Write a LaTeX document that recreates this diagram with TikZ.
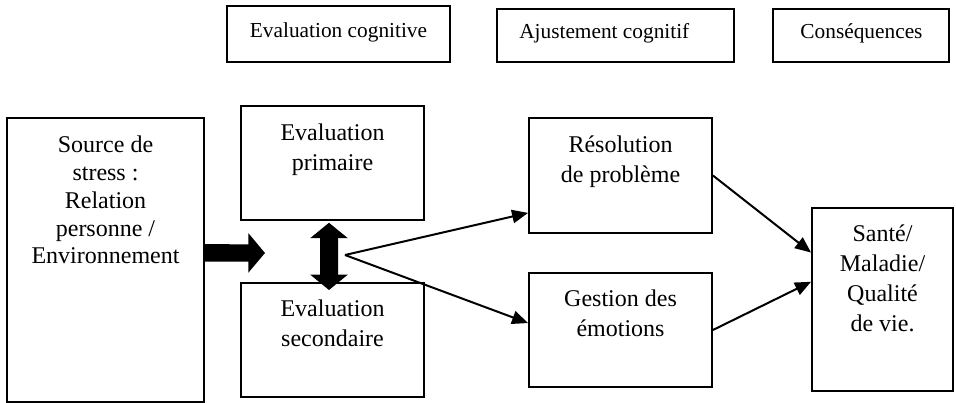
\documentclass[tikz,border=0pt]{standalone}
\usepackage{fontspec}
\setmainfont{Liberation Serif}
\usetikzlibrary{arrows.meta,calc}

\begin{document}
\begin{tikzpicture}[x=0.75pt,y=0.75pt,yscale=-1,xscale=1,
    box/.style={draw, line width=1.4pt, inner sep=0pt},
    toptext/.style={font=\fontsize{16}{19}\selectfont, inner sep=0pt, anchor=base},
    boxtext/.style={font=\fontsize{18}{22.5}\selectfont, align=center, inner sep=0pt, anchor=north},
    link/.style={line width=1.5pt, -{Triangle[length=12pt,width=10pt]}},
    fat/.style={line width=13pt, -{Triangle[length=12.5pt,width=29pt]}},
    fatboth/.style={line width=13.5pt, {Triangle[length=11.5pt,width=27.5pt]}-{Triangle[length=11.5pt,width=27.5pt]}}]
    \useasboundingbox (0,0) rectangle (956,403);

    %Shape: Rectangle [top row]
    \node [box, minimum width=167.25pt, minimum height=42pt] (cogbox) at (338.5,34) {};
    \node [box, minimum width=177.75pt, minimum height=39.75pt] (ajubox) at (615.5,35.5) {};
    \node [box, minimum width=132pt, minimum height=39.75pt] (conbox) at (861,35.5) {};
    % Text Node
    \node [toptext] (cogtxt) at (338.5,37.5) {Evaluation cognitive};
    \node [toptext, anchor=base west] (ajutxt) at (519,39) {Ajustement cognitif};
    \node [toptext] (contxt) at (861.5,39) {Conséquences};

    %Shape: Rectangle [main boxes]
    \node [box, minimum width=147.75pt, minimum height=213pt] (src) at (105.5,260) {};
    \node [box, minimum width=137.25pt, minimum height=85.5pt] (prim) at (332.5,163) {};
    \node [box, minimum width=137.25pt, minimum height=85.5pt] (sec) at (332.5,340) {};
    \node [box, minimum width=137.25pt, minimum height=86.25pt] (reso) at (620.5,175.5) {};
    \node [box, minimum width=137.25pt, minimum height=85.5pt] (gest) at (620.5,330) {};
    \node [box, minimum width=105.75pt, minimum height=137.25pt] (sante) at (882.5,299.5) {};
    % Text Node
    \node [boxtext, font=\fontsize{18}{20.8}\selectfont] (srctxt) at (105.5,136) {Source de\\stress :\\Relation\\personne /\\Environnement};
    \node [boxtext] (primtxt) at (332.5,124) {Evaluation\\primaire};
    \node [boxtext] (sectxt) at (332.5,300) {Evaluation\\secondaire};
    \node [boxtext] (resotxt) at (620.5,136) {Résolution\\de problème};
    \node [boxtext] (gesttxt) at (620.5,290) {Gestion des\\émotions};
    \node [boxtext] (santetxt) at (882.5,225) {Santé/\\Maladie/\\Qualité\\de vie.};

    \coordinate (hit) at (265,253);
    \coordinate (fork) at (345,255);

    %Arrows
    \draw [fat] ($(src.south east)!0.525!(src.north east)$) -- (hit);
    \draw [fatboth] ($(prim.south)!0.03!(sec.north)+(-3.5,0)$) -- ($(prim.south)!1.13!(sec.north)+(-3.5,0)$);
    \draw [link] (fork) -- ($(reso.south west)!0.18!(reso.north west)$);
    \draw [link] (fork) -- ($(gest.south west)!0.56!(gest.north west)$);
    \draw [link] (reso.east) -- ($(sante.south west)!0.754!(sante.north west)$);
    \draw [link] (gest.east) -- ($(sante.south west)!0.596!(sante.north west)$);

\end{tikzpicture}
\end{document}
